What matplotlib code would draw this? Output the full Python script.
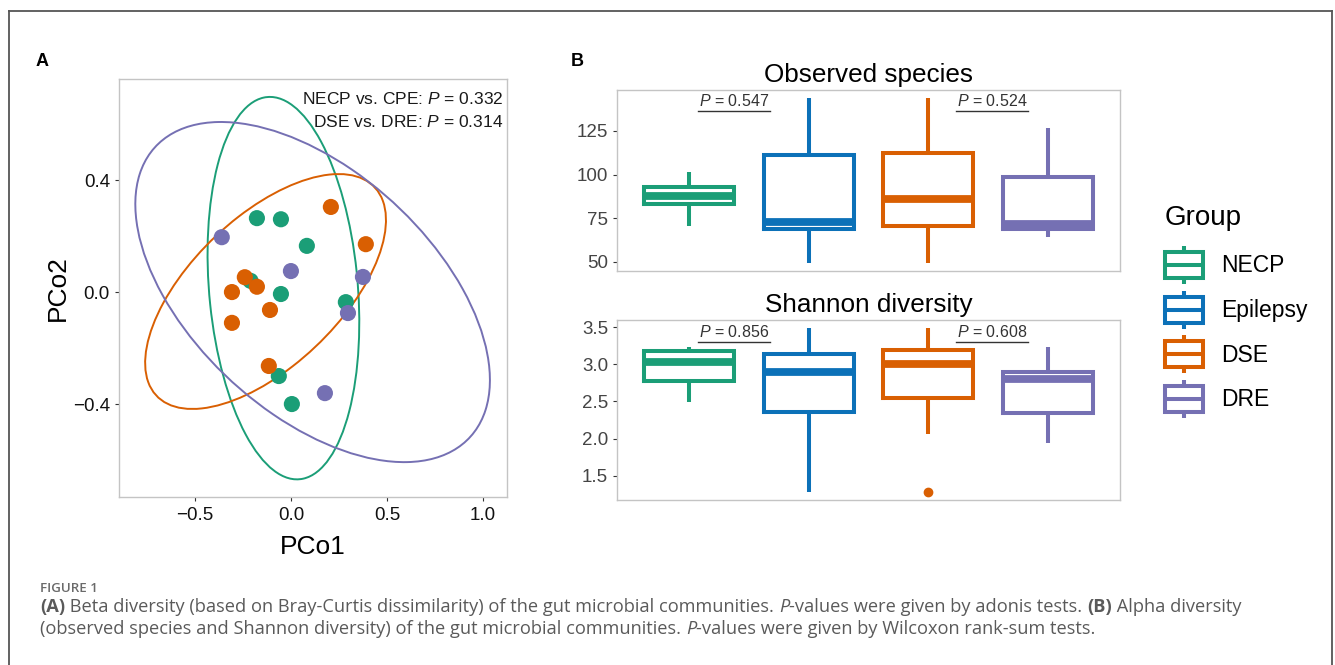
import numpy as np
import matplotlib
matplotlib.use('Agg')
import matplotlib.pyplot as plt
from matplotlib.patches import Ellipse, Rectangle, Patch
from matplotlib.lines import Line2D
from matplotlib.legend_handler import HandlerBase

plt.rcParams['font.family'] = 'Liberation Sans'
plt.rcParams['mathtext.fontset'] = 'custom'
plt.rcParams['mathtext.rm'] = 'Liberation Sans'
plt.rcParams['mathtext.it'] = 'Liberation Sans:italic'
plt.rcParams['mathtext.bf'] = 'Liberation Sans:bold'

# groups and colours
groups = ['NECP', 'Epilepsy', 'DSE', 'DRE']
colors = ['#1B9E77', '#0C71B8', '#D95F02', '#7570B3']

# ---- panel A : PCoA points
necp_x = [-0.177, -0.052, 0.083, -0.21, -0.052, 0.286, -0.063, 0.005]
necp_y = [0.264, 0.26, 0.165, 0.04, -0.007, -0.036, -0.30, -0.40]
dse_x = [0.208, 0.39, -0.24, -0.177, -0.307, -0.109, -0.307, -0.115]
dse_y = [0.304, 0.171, 0.053, 0.019, 0.0, -0.064, -0.11, -0.264]
dre_x = [-0.36, 0.0, 0.375, 0.297, 0.177]
dre_y = [0.196, 0.075, 0.054, -0.075, -0.361]

# ellipse centre and shape matrix per group
necp_ell_c = [-0.039, 0.014]
necp_ell_s = [[0.156, -0.048], [-0.048, 0.4665]]
dse_ell_c = [-0.132, 0.002]
dse_ell_s = [[0.393, 0.160], [0.160, 0.176]]
dre_ell_c = [0.113, 0.0]
dre_ell_s = [[0.852, -0.290], [-0.290, 0.369]]

adonis_txt = ['NECP vs. CPE: $P$ = 0.332', 'DSE vs. DRE: $P$ = 0.314']

# ---- panel B : box statistics (whislo, q1, med, q3, whishi)
obs_stats = [[70.6, 82.9, 88.0, 92.9, 101.7],
             [49.2, 69.0, 73.0, 111.2, 143.6],
             [49.4, 70.8, 85.9, 112.2, 143.6],
             [64.5, 69.0, 72.0, 98.8, 126.5]]
obs_fliers = [[], [], [], []]
sha_stats = [[2.49, 2.78, 3.03, 3.18, 3.23],
             [1.275, 2.36, 2.90, 3.14, 3.485],
             [2.06, 2.55, 3.01, 3.20, 3.485],
             [1.94, 2.35, 2.80, 2.90, 3.24]]
sha_fliers = [[], [], [1.275], []]
obs_p = ['0.547', '0.524']
sha_p = ['0.856', '0.608']

W, H = 1335, 665
fig = plt.figure(figsize=(W/100, H/100), dpi=100)

def fx(px):
    return px / W

def fy(py):
    return 1 - py / H

# outer frame (top, left, right)
fr = dict(color='#555555', lw=1.3, transform=fig.transFigure)
fig.add_artist(Line2D([fx(9), fx(1332)], [fy(11), fy(11)], **fr))
fig.add_artist(Line2D([fx(9), fx(9)], [0, fy(11)], **fr))
fig.add_artist(Line2D([fx(1332), fx(1332)], [0, fy(11)], **fr))

# ================= panel A
ax = fig.add_axes([fx(119), fy(497), fx(507-119), (497-79)/H])
pts = [(necp_x, necp_y, colors[0]), (dse_x, dse_y, colors[2]), (dre_x, dre_y, colors[3])]
for xs, ys, c in pts:
    ax.scatter(xs, ys, s=135, color=c, edgecolors='none', zorder=3)

for cen, S, c in [(necp_ell_c, necp_ell_s, colors[0]),
                  (dse_ell_c, dse_ell_s, colors[2]),
                  (dre_ell_c, dre_ell_s, colors[3])]:
    w, v = np.linalg.eigh(np.array(S))
    ang = np.degrees(np.arctan2(v[1, 1], v[0, 1]))
    ax.add_patch(Ellipse(cen, 2*np.sqrt(w[1]), 2*np.sqrt(w[0]), angle=ang,
                         fill=False, ec=c, lw=1.4, zorder=2))

ax.set_xlim(-0.895, 1.125)
ax.set_ylim(-0.732, 0.761)
ax.set_xticks([-0.5, 0.0, 0.5, 1.0])
ax.set_yticks([-0.4, 0.0, 0.4])
ax.tick_params(labelsize=13.5, length=3, color='#333333', labelcolor='#111111')
ax.tick_params(axis='x', pad=4)
for sp in ax.spines.values():
    sp.set_color('#C4C4C4')
    sp.set_linewidth(1.0)
ax.set_xlabel('PCo1', fontsize=19, labelpad=8)
ax.set_ylabel('PCo2', fontsize=19, labelpad=2)
ax.text(0.99, 0.952, adonis_txt[0], transform=ax.transAxes, ha='right', va='center', fontsize=12.5, color='#1a1a1a')
ax.text(0.99, 0.897, adonis_txt[1], transform=ax.transAxes, ha='right', va='center', fontsize=12.5, color='#1a1a1a')

fig.text(fx(42), fy(62), 'A', fontsize=13, fontweight='bold', ha='center', va='center')
fig.text(fx(577), fy(61), 'B', fontsize=13, fontweight='bold', ha='center', va='center')

# ================= panel B
def boxpanel(ax, stats, fliers, title, ylim, yticks, pvals, p_y):
    for i, (s, fl, c) in enumerate(zip(stats, fliers, colors)):
        d = dict(whislo=s[0], q1=s[1], med=s[2], q3=s[3], whishi=s[4], fliers=fl)
        ax.bxp([d], positions=[i + 1], widths=0.75, showcaps=False,
               boxprops=dict(color=c, lw=2.9, solid_joinstyle='miter'),
               medianprops=dict(color=c, lw=5.6, solid_capstyle='butt'),
               whiskerprops=dict(color=c, lw=2.9, solid_capstyle='butt'),
               flierprops=dict(marker='o', mfc=c, mec=c, ms=6))
    ax.set_xlim(0.4, 4.6)
    ax.set_ylim(*ylim)
    ax.set_xticks([])
    ax.set_yticks(yticks)
    ax.tick_params(labelsize=13.5, length=3, color='#333333', labelcolor='#444444')
    for sp in ax.spines.values():
        sp.set_color('#C4C4C4')
        sp.set_linewidth(1.0)
    ax.set_title(title, fontsize=18.8, pad=6)
    for xc, p in zip([1.38, 3.53], pvals):
        ax.plot([xc - 0.30, xc + 0.30], [p_y, p_y], color='#333333', lw=1.0)
        ax.annotate('$P$ = ' + p, (xc, p_y), xytext=(0, 1.5), textcoords='offset points',
                    ha='center', va='bottom', fontsize=11.5, color='#333333')

ax1 = fig.add_axes([fx(617), fy(271), fx(1120-617), (271-90)/H])
boxpanel(ax1, obs_stats, obs_fliers, 'Observed species', (44.85, 148.4), [50, 75, 100, 125], obs_p, 136.4)
ax2 = fig.add_axes([fx(617), fy(500), fx(1120-617), (500-320)/H])
boxpanel(ax2, sha_stats, sha_fliers, 'Shannon diversity', (1.172, 3.598), [1.5, 2.0, 2.5, 3.0, 3.5], sha_p, 3.30)

# legend with box glyphs
class BoxKey(HandlerBase):
    def create_artists(self, legend, orig_handle, xdescent, ydescent, width, height, fontsize, trans):
        c = orig_handle.get_edgecolor()
        x0, y0 = -xdescent, -ydescent
        bh = height * 0.68
        by = y0 + (height - bh) / 2
        kw = dict(color=c, lw=2.9, transform=trans, solid_capstyle='butt')
        rect = Rectangle((x0, by), width, bh, fill=False, ec=c, lw=2.9, transform=trans, joinstyle='miter')
        med = Line2D([x0, x0 + width], [y0 + height / 2] * 2, **kw)
        wt = Line2D([x0 + width / 2] * 2, [by + bh, y0 + height], **kw)
        wb = Line2D([x0 + width / 2] * 2, [y0, by], **kw)
        return [rect, med, wt, wb]

handles = [Patch(facecolor='none', edgecolor=c) for c in colors]
leg = fig.legend(handles, groups, handler_map={Patch: BoxKey()}, loc='upper left',
                 bbox_to_anchor=(fx(1165), fy(205)), frameon=False, fontsize=16.5,
                 title='Group', title_fontsize=20, handlelength=1.66, handleheight=2.18,
                 labelspacing=0.28, handletextpad=0.79, borderpad=0, borderaxespad=0,
                 alignment='left')
leg._legend_box.sep = 11

# caption
cap = dict(family='Open Sans', fontsize=13.15, color='#5a5a5a')
fig.text(fx(40), fy(592), 'FIGURE 1', family='Open Sans', fontsize=9.6, fontweight='semibold', color='#6a6a6a')

def rich(x, y, pieces):
    prev = fig.text(x, y, pieces[0][0], ha='left', va='baseline', **{**cap, **pieces[0][1]})
    for s, st in pieces[1:]:
        prev = ax.annotate(s, xy=(1, 0), xycoords=prev, ha='left', va='bottom',
                           annotation_clip=False, **{**cap, **st})
    return prev

B = dict(fontweight='bold')
I = dict(style='italic')
N = {}
rich(fx(40), fy(612), [('(A)', B),
                        (' Beta diversity (based on Bray-Curtis dissimilarity) of the gut microbial communities. ', N),
                        ('P', I), ('-values were given by adonis tests. ', N),
                        ('(B)', B), (' Alpha diversity', N)])
rich(fx(40), fy(634), [('(observed species and Shannon diversity) of the gut microbial communities. ', N),
                        ('P', I), ('-values were given by Wilcoxon rank-sum tests.', N)])

plt.savefig('out.png', dpi=100)
